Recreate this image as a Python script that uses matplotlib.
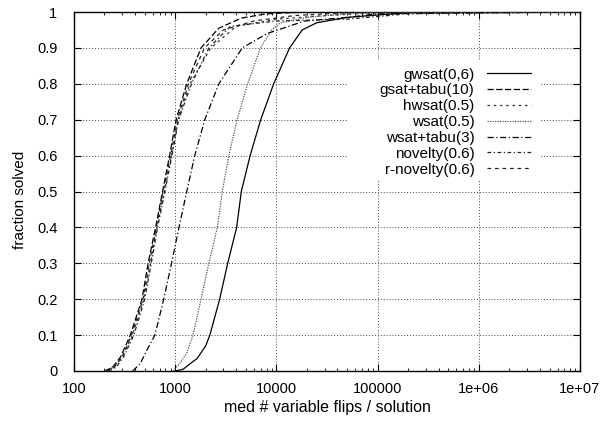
import matplotlib
matplotlib.use("Agg")
import matplotlib.pyplot as plt
from matplotlib.patches import Rectangle
from matplotlib.ticker import LogLocator, FixedLocator, NullFormatter
import numpy as np

plt.rcParams["font.family"] = ["Liberation Sans", "DejaVu Sans"]
plt.rcParams["font.size"] = 11

# curves (flips, fraction solved)
gwsat_x = [1000, 1200, 1400, 1650, 2000, 2200, 2750, 3300, 4050, 4500, 5500, 7000,
           9400, 13500, 18000, 25000, 50000, 200000, 1e7]
gwsat_y = [0, 0.005, 0.02, 0.035, 0.07, 0.1, 0.2, 0.3, 0.4, 0.5, 0.6, 0.7,
           0.8, 0.9, 0.95, 0.97, 0.985, 0.998, 1.0]

gsat_tabu_x = [200, 240, 290, 360, 470, 540, 640, 750, 880, 1020, 1300, 1800,
               2700, 4500, 8000, 20000, 1e7]
gsat_tabu_y = [0, 0.01, 0.04, 0.1, 0.2, 0.3, 0.4, 0.5, 0.6, 0.7, 0.8, 0.9,
               0.955, 0.983, 0.995, 1.0, 1.0]

hwsat_x = [200, 245, 300, 380, 490, 570, 660, 780, 920, 1070, 1400, 2250,
           4000, 10000, 30000, 100000, 1e7]
hwsat_y = [0, 0.01, 0.04, 0.1, 0.2, 0.3, 0.4, 0.5, 0.6, 0.7, 0.8, 0.9,
           0.96, 0.98, 0.99, 0.998, 1.0]

wsat_x = [950, 1100, 1300, 1500, 1800, 2150, 2610, 2920, 3390, 4090, 5200, 6950,
          9000, 11000, 20000, 50000, 100000, 1e7]
wsat_y = [0, 0.02, 0.05, 0.1, 0.2, 0.3, 0.4, 0.5, 0.6, 0.7, 0.8, 0.9,
          0.95, 0.97, 0.985, 0.995, 1.0, 1.0]

wsat_tabu_x = [380, 450, 530, 630, 770, 920, 1090, 1300, 1560, 1960, 2700, 4600,
               8100, 19000, 50000, 100000, 1e7]
wsat_tabu_y = [0, 0.02, 0.06, 0.1, 0.2, 0.3, 0.4, 0.5, 0.6, 0.7, 0.8, 0.9,
               0.94, 0.975, 0.985, 0.995, 1.0]

novelty_x = [220, 260, 310, 390, 500, 580, 670, 790, 930, 1080, 1450, 2150,
             3500, 10000, 50000, 200000, 1e7]
novelty_y = [0, 0.01, 0.04, 0.1, 0.2, 0.3, 0.4, 0.5, 0.6, 0.7, 0.8, 0.9,
             0.96, 0.975, 0.98, 0.995, 1.0]

rnovelty_x = [210, 250, 300, 370, 480, 555, 650, 760, 900, 1050, 1350, 1950,
              3000, 6000, 15000, 50000, 1e7]
rnovelty_y = [0, 0.01, 0.04, 0.1, 0.2, 0.3, 0.4, 0.5, 0.6, 0.7, 0.8, 0.9,
              0.95, 0.975, 0.99, 0.998, 1.0]

x_ticks = [100, 1000, 10000, 100000, 1e6, 1e7]
x_ticklabels = ["100", "1000", "10000", "100000", "1e+06", "1e+07"]
y_ticks = [0, 0.1, 0.2, 0.3, 0.4, 0.5, 0.6, 0.7, 0.8, 0.9, 1.0]
y_ticklabels = ["0", "0.1", "0.2", "0.3", "0.4", "0.5", "0.6", "0.7", "0.8", "0.9", "1"]

series = [
    ("gwsat(0,6)", gwsat_x, gwsat_y, "-", "black"),
    ("gsat+tabu(10)", gsat_tabu_x, gsat_tabu_y, (0, (5, 2)), "black"),
    ("hwsat(0.5)", hwsat_x, hwsat_y, (0, (2, 3)), "#333333"),
    ("wsat(0.5)", wsat_x, wsat_y, (0, (1, 1)), "#555555"),
    ("wsat+tabu(3)", wsat_tabu_x, wsat_tabu_y, (0, (5, 2, 1, 2)), "black"),
    ("novelty(0.6)", novelty_x, novelty_y, (0, (3, 2, 1, 2)), "#222222"),
    ("r-novelty(0.6)", rnovelty_x, rnovelty_y, (0, (3, 3)), "#222222"),
]

fig = plt.figure(figsize=(6.01, 4.24), dpi=100)
ax = fig.add_axes([74 / 601, 1 - 371 / 424, 506 / 601, 359 / 424])

for label, xs, ys, ls, col in series:
    ax.plot(xs, ys, linestyle=ls, color=col, linewidth=0.9, label=label, zorder=3)

ax.set_xscale("log")
ax.set_xlim(100, 1e7)
ax.set_ylim(0, 1)
ax.xaxis.set_major_locator(FixedLocator(x_ticks))
ax.set_xticklabels(x_ticklabels)
ax.xaxis.set_minor_locator(LogLocator(base=10, subs=np.arange(2, 10)))
ax.xaxis.set_minor_formatter(NullFormatter())
ax.set_yticks(y_ticks)
ax.set_yticklabels(y_ticklabels)

ax.tick_params(which="both", direction="in", top=True, right=True, labelsize=10.5)
ax.tick_params(which="major", length=5, width=0.8)
ax.tick_params(which="minor", length=2.5, width=0.6)
ax.tick_params(axis="x", pad=8)
ax.tick_params(axis="y", pad=12)

ax.set_axisbelow(True)
ax.grid(True, which="major", color="#444444", linestyle=(0, (1, 2)), linewidth=0.7)
for s in ax.spines.values():
    s.set_linewidth(1.0)

# white box behind the legend, hides the grid there (gnuplot style)
ax.add_patch(Rectangle((0.54, 0.535), 0.38, 0.33, transform=ax.transAxes,
                       facecolor="white", edgecolor="none", zorder=1))

ax.legend(loc="upper right", bbox_to_anchor=(0.903, 0.845), frameon=False,
          markerfirst=False, handlelength=2.9, handletextpad=0.8,
          labelspacing=0.12, borderpad=0, borderaxespad=0, fontsize=11)

ax.set_xlabel("med # variable flips / solution", fontsize=11.5)
ax.set_ylabel("fraction solved", fontsize=11)
ax.xaxis.set_label_coords(0.5, -0.081)
ax.yaxis.set_label_coords(-0.093, 0.476)

fig.savefig("out.png", dpi=100)
